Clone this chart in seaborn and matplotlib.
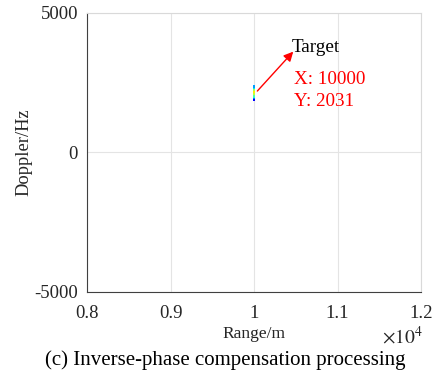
import matplotlib
matplotlib.use("Agg")
import matplotlib.pyplot as plt
import seaborn as sns
import pandas as pd

# Range/Doppler cells of the focused target after compensation
range_m = [10000, 10000, 10000, 10000, 10000, 10000, 10000, 10000, 10000]
doppler_hz = [1870, 1935, 2000, 2031, 2100, 2165, 2230, 2295, 2360]
intensity = [0.12, 0.25, 0.38, 0.45, 0.58, 0.66, 0.55, 0.35, 0.28]

x_ticks = [8000, 9000, 10000, 11000, 12000]
x_tick_labels = ["0.8", "0.9", "1", "1.1", "1.2"]
y_ticks = [-5000, 0, 5000]

tip_x, tip_y = 10000, 2031

sns.set_theme(style="white")
plt.rcParams["font.family"] = ["Liberation Serif", "DejaVu Serif"]
plt.rcParams["mathtext.fontset"] = "stix"
plt.rcParams["axes.unicode_minus"] = False

fig = plt.figure(figsize=(4.37, 3.78), dpi=100)
ax = fig.add_axes([87 / 437, 1 - 292 / 378, (421 - 87) / 437, (292 - 12.5) / 378])

df = pd.DataFrame({"range": range_m, "doppler": doppler_hz, "level": intensity})
sns.scatterplot(data=df, x="range", y="doppler", hue="level",
                palette=matplotlib.colormaps["jet"], hue_norm=(0, 1),
                marker="s", s=3.5, linewidth=0, legend=False, ax=ax)

ax.set_xlim(8000, 12000)
ax.set_ylim(-5000, 5000)
ax.set_xticks(x_ticks)
ax.set_xticklabels(x_tick_labels)
ax.set_yticks(y_ticks)
ax.grid(True, color="#e4e4e4", linewidth=0.8)
ax.set_axisbelow(True)

for side in ("left", "bottom"):
    ax.spines[side].set_color("#404040")
    ax.spines[side].set_linewidth(0.8)
for side in ("top", "right"):
    ax.spines[side].set_color("#d9d9d9")
    ax.spines[side].set_linewidth(0.8)

ax.tick_params(axis="both", direction="out", length=2.5, width=0.7, color="#404040",
               labelsize=13.5, labelcolor="#262626", pad=4)
ax.tick_params(axis="x", length=0, pad=9)

ax.set_xlabel("Range/m", fontsize=12.5, color="#262626", labelpad=3)
ax.set_ylabel("Doppler/Hz", fontsize=13.3, color="#262626")
ax.yaxis.set_label_coords(-0.162, 0.5)

ax.text(1.006, -0.16, r"$\times10^{4}$", transform=ax.transAxes, ha="right", va="center",
        fontsize=14, color="#262626")

# Target marker annotation
ax.annotate("", xy=(10470, 3600), xytext=(10040, 2190),
            arrowprops=dict(arrowstyle="-|>", color="red", lw=1.0,
                            mutation_scale=14, shrinkA=0, shrinkB=0))
ax.text(10450, 3730, "Target", fontsize=13.8, color="black", va="center", ha="left")
ax.text(10475, 2620, f"X: {tip_x}", fontsize=13.8, color="red", va="center", ha="left")
ax.text(10475, 1830, f"Y: {tip_y}", fontsize=13.8, color="red", va="center", ha="left")

fig.text(225 / 437, 1 - 360 / 378, "(c) Inverse-phase compensation processing",
         ha="center", va="center", fontsize=15, color="black")

fig.savefig("out.png", dpi=100)
